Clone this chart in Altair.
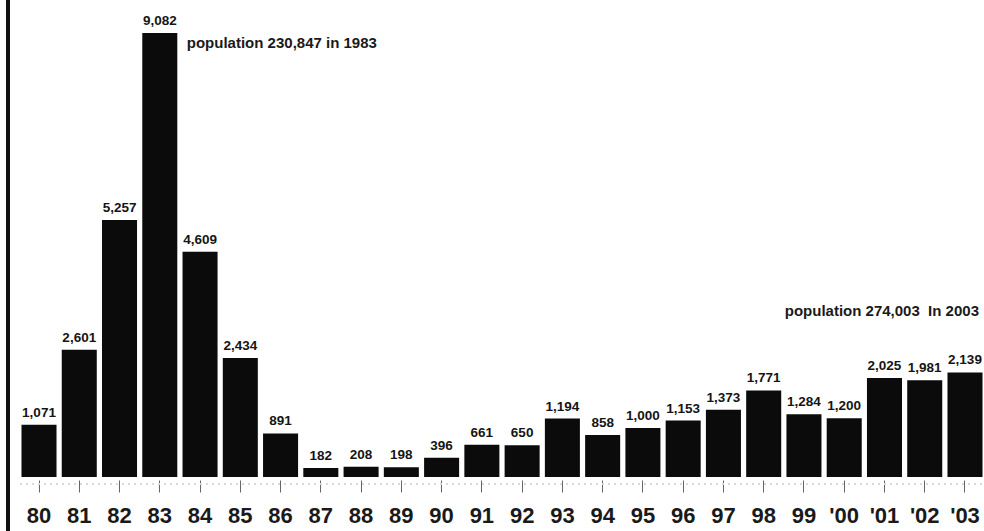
import altair as alt
import pandas as pd

# Yearly counts, 1980-2003
years = ["80", "81", "82", "83", "84", "85", "86", "87", "88", "89", "90", "91",
         "92", "93", "94", "95", "96", "97", "98", "99", "'00", "'01", "'02", "'03"]
counts = [1071, 2601, 5257, 9082, 4609, 2434, 891, 182, 208, 198, 396, 661,
          650, 1194, 858, 1000, 1153, 1373, 1771, 1284, 1200, 2025, 1981, 2139]

# Population notes attached to two of the bars
note_years = ["83", "'03"]
note_values = [9082, 2139]
note_texts = ["population 230,847 in 1983", "population 274,003\u00a0 In 2003"]

df = pd.DataFrame({"year": years, "count": counts})
df["label"] = df["count"].map(lambda v: f"{v:,}")
notes = pd.DataFrame({"year": note_years, "count": note_values, "text": note_texts})

FONT = "Liberation Sans"

x = alt.X(
    "year:N",
    sort=years,
    title=None,
    scale=alt.Scale(paddingInner=0.13, paddingOuter=0.037),
    axis=alt.Axis(
        labelAngle=0,
        labelFont=FONT,
        labelFontSize=22,
        labelFontWeight="bold",
        labelColor="#1a1a1a",
        labelPadding=13.5,
        domain=False,
        ticks=True,
        tickSize=12,
        tickColor="#666666",
        tickWidth=1,
        offset=3,
    ),
)
y = alt.Y("count:Q", axis=None, scale=alt.Scale(domain=[0, 9755], nice=False))

bars = alt.Chart(df).mark_bar(color="#0b0b0b").encode(x=x, y=y)

values = alt.Chart(df).mark_text(
    font=FONT, fontSize=13.5, fontWeight="bold", color="#151515",
    baseline="alphabetic", dy=-8,
).encode(x=alt.X("year:N", sort=years), y="count:Q", text="label:N")

note_1983 = alt.Chart(notes.iloc[[0]]).mark_text(
    font=FONT, fontSize=15, fontWeight="bold", color="#1a1a1a",
    align="left", baseline="alphabetic", dx=27, dy=15,
).encode(x=alt.X("year:N", sort=years), y="count:Q", text="text:N")

note_2003 = alt.Chart(notes.iloc[[1]]).mark_text(
    font=FONT, fontSize=15, fontWeight="bold", color="#1a1a1a",
    align="right", baseline="alphabetic", dx=14, dy=-56,
).encode(x=alt.X("year:N", sort=years), y="count:Q", text="text:N")

# Vertical frame line on the left edge
frame = alt.Chart(df).mark_rule(color="#111111", strokeWidth=3).encode(
    x=alt.value(-12), y=alt.value(0), y2=alt.value(531)
)

# Faint dotted guide running through the tick marks
guide = alt.Chart(df).mark_rule(color="#d8d8d8", strokeWidth=1, strokeDash=[2, 4]).encode(
    x=alt.value(0), x2=alt.value(964), y=alt.value(484)
)

chart = (
    alt.layer(guide, bars, values, note_1983, note_2003, frame)
    .properties(
        width=964,
        height=477,
        autosize=alt.AutoSizeParams(type="none"),
        padding={"left": 20, "top": 0, "right": 0, "bottom": 54},
        background="white",
    )
    .configure_view(stroke=None)
)

chart.save("out.html", embed_options={"renderer": "svg", "actions": False})
